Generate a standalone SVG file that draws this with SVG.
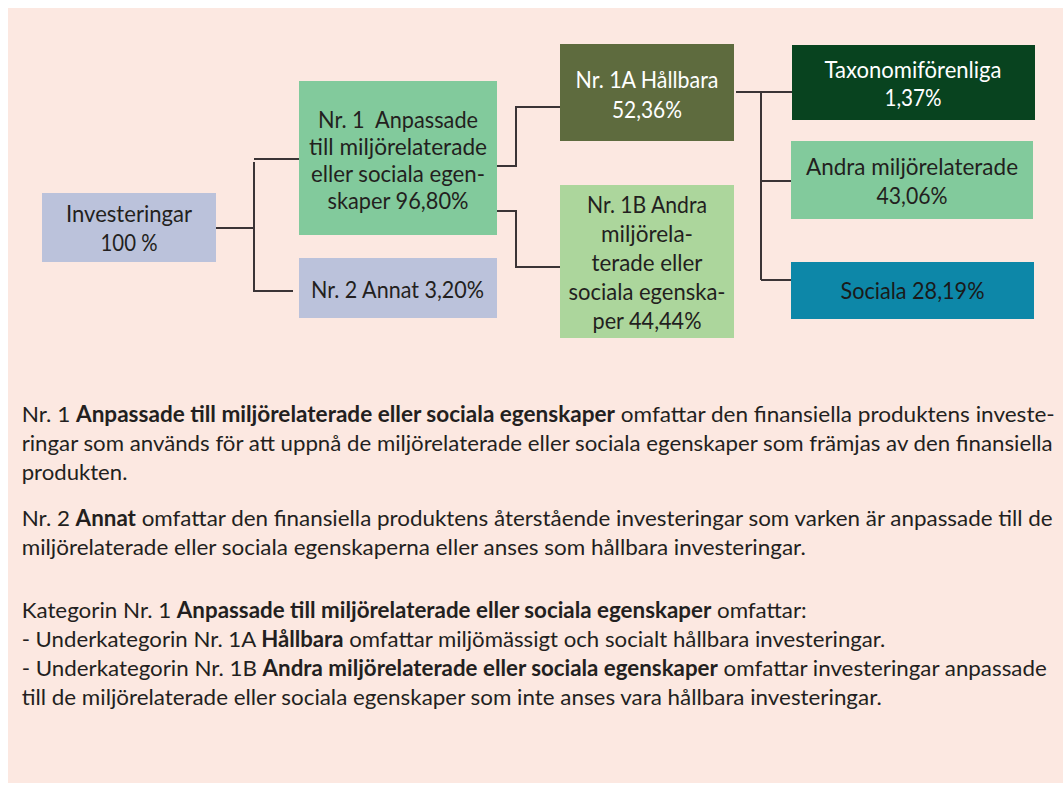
<svg xmlns="http://www.w3.org/2000/svg" width="1063" height="786" viewBox="0 0 1063 786">
<style>
.t{font-family:Lato,"Liberation Sans",sans-serif;font-size:22.5px;fill:#231F20;text-anchor:middle}
.w{fill:#FFFFFF}
.p{font-family:Lato,"Liberation Sans",sans-serif;font-size:22px;fill:#231F20}
.b{font-weight:bold}
.conn path{stroke:#3B3436;stroke-width:2;fill:none}
</style>
<rect x="0" y="0" width="1063" height="786" fill="#FFFFFF"/>
<rect x="8" y="8" width="1055" height="775" fill="#FCE8E1"/>

<g class="conn" id="connectors">
<path d="M216,228 H254"/>
<path d="M254,162 V291 H293"/>
<path d="M254,159 H299"/>
<path d="M497,166 H516 V107 H560"/>
<path d="M497,211 H516 V267 H560"/>
<path d="M736,92 H792"/>
<path d="M761,92 V280"/>
<path d="M761,181 H791"/>
<path d="M761,280 H791"/>
</g>

<g id="investeringar">
<rect x="42" y="193" width="174" height="69" fill="#BBC2DB"/>
<text class="t" x="129" y="222" textLength="126" lengthAdjust="spacingAndGlyphs">Investeringar</text>
<text class="t" x="129" y="251" textLength="57" lengthAdjust="spacingAndGlyphs">100 %</text>
</g>

<g id="nr1">
<rect x="299" y="81" width="198" height="154" fill="#82CA9C"/>
<text class="t" x="398" y="128" textLength="160" lengthAdjust="spacingAndGlyphs" xml:space="preserve">Nr. 1  Anpassade</text>
<text class="t" x="398" y="155" textLength="178" lengthAdjust="spacingAndGlyphs">till miljörelaterade</text>
<text class="t" x="398" y="182" textLength="174" lengthAdjust="spacingAndGlyphs">eller sociala egen-</text>
<text class="t" x="398" y="208.5" textLength="141" lengthAdjust="spacingAndGlyphs">skaper 96,80%</text>
</g>

<g id="nr2">
<rect x="299" y="258" width="198" height="60" fill="#BBC2DB"/>
<text class="t" x="397.5" y="297.5" textLength="173" lengthAdjust="spacingAndGlyphs">Nr. 2 Annat 3,20%</text>
</g>

<g id="nr1a">
<rect x="560" y="44" width="174" height="97" fill="#5E6B3E"/>
<text class="t w" x="647" y="87.5" textLength="143" lengthAdjust="spacingAndGlyphs">Nr. 1A Hållbara</text>
<text class="t w" x="647" y="117.5" textLength="70" lengthAdjust="spacingAndGlyphs">52,36%</text>
</g>

<g id="nr1b">
<rect x="560" y="185" width="174" height="153" fill="#ACD69C"/>
<text class="t" x="647" y="212.5" textLength="120" lengthAdjust="spacingAndGlyphs">Nr. 1B Andra</text>
<text class="t" x="647" y="241.5" textLength="92" lengthAdjust="spacingAndGlyphs">miljörela-</text>
<text class="t" x="647" y="271" textLength="111" lengthAdjust="spacingAndGlyphs">terade eller</text>
<text class="t" x="647" y="300" textLength="157" lengthAdjust="spacingAndGlyphs">sociala egenska-</text>
<text class="t" x="647" y="329" textLength="109" lengthAdjust="spacingAndGlyphs">per 44,44%</text>
</g>

<g id="taxonomi">
<rect x="792" y="45" width="243" height="75" fill="#08431F"/>
<text class="t w" x="913" y="77.5" textLength="177" lengthAdjust="spacingAndGlyphs">Taxonomiförenliga</text>
<text class="t w" x="913" y="106" textLength="57" lengthAdjust="spacingAndGlyphs">1,37%</text>
</g>

<g id="andra">
<rect x="791" y="141" width="242" height="78" fill="#82CA9C"/>
<text class="t" x="912" y="175" textLength="212" lengthAdjust="spacingAndGlyphs">Andra miljörelaterade</text>
<text class="t" x="912" y="204" textLength="71" lengthAdjust="spacingAndGlyphs">43,06%</text>
</g>

<g id="sociala">
<rect x="791" y="262" width="243" height="57" fill="#0D87A8"/>
<text class="t" x="912.5" y="299" textLength="144" lengthAdjust="spacingAndGlyphs" style="fill:#1A1A1A">Sociala 28,19%</text>
</g>

<g id="explanation">
<text class="p" x="21.7" y="422" textLength="1033" lengthAdjust="spacingAndGlyphs">Nr. 1 <tspan class="b">Anpassade till miljörelaterade eller sociala egenskaper</tspan> omfattar den finansiella produktens investe-</text>
<text class="p" x="21.7" y="451" textLength="1031" lengthAdjust="spacingAndGlyphs">ringar som används för att uppnå de miljörelaterade eller sociala egenskaper som främjas av den finansiella</text>
<text class="p" x="21.7" y="480" textLength="105.7" lengthAdjust="spacingAndGlyphs">produkten.</text>
<text class="p" x="21.7" y="526" textLength="1031" lengthAdjust="spacingAndGlyphs">Nr. 2 <tspan class="b">Annat</tspan> omfattar den finansiella produktens återstående investeringar som varken är anpassade till de</text>
<text class="p" x="21.7" y="555" textLength="784" lengthAdjust="spacingAndGlyphs">miljörelaterade eller sociala egenskaperna eller anses som hållbara investeringar.</text>
<text class="p" x="21.7" y="618" textLength="785" lengthAdjust="spacingAndGlyphs">Kategorin Nr. 1 <tspan class="b">Anpassade till miljörelaterade eller sociala egenskaper</tspan> omfattar:</text>
<text class="p" x="21.7" y="647" textLength="863.6" lengthAdjust="spacingAndGlyphs">- Underkategorin Nr. 1A <tspan class="b">Hållbara</tspan> omfattar miljömässigt och socialt hållbara investeringar.</text>
<text class="p" x="21.7" y="676" textLength="1025" lengthAdjust="spacingAndGlyphs">- Underkategorin Nr. 1B <tspan class="b">Andra miljörelaterade eller sociala egenskaper</tspan> omfattar investeringar anpassade</text>
<text class="p" x="21.7" y="705" textLength="860" lengthAdjust="spacingAndGlyphs">till de miljörelaterade eller sociala egenskaper som inte anses vara hållbara investeringar.</text>
</g>
</svg>
